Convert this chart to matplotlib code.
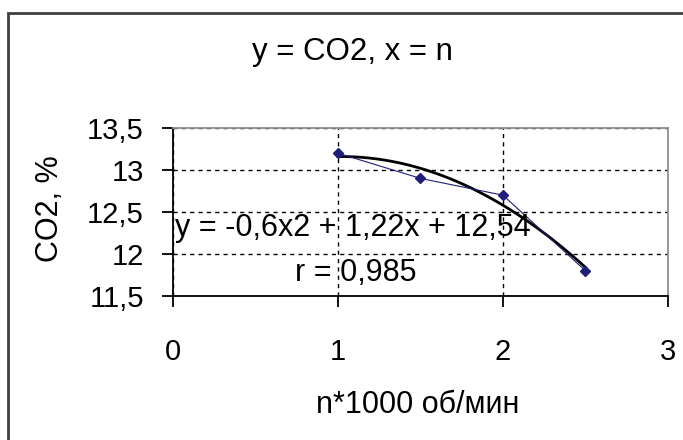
import matplotlib.pyplot as plt
import numpy as np
from matplotlib.patches import Rectangle

plt.rcParams['font.family'] = ['Liberation Sans', 'DejaVu Sans']

# измерения
n = [1, 1.5, 2, 2.5]
co2 = [13.2, 12.9, 12.7, 11.8]
# коэффициенты линии тренда (из подписи на графике)
coef = [-0.6, 1.22, 12.54]
x_ticks = [0, 1, 2, 3]
y_ticks = [11.5, 12, 12.5, 13, 13.5]
y_labels = ['11,5', '12', '12,5', '13', '13,5']

fig = plt.figure(figsize=(6.83, 4.40), dpi=100)
ax = fig.add_axes([173 / 683, 144 / 440, 495 / 683, 168 / 440])

# линия тренда
xt = np.linspace(n[0], n[-1], 100)
ax.plot(xt, np.polyval(coef, xt), color='black', lw=2, zorder=3)
# данные
ax.plot(n, co2, color='#1f1f7a', lw=0.8, marker='D', ms=5.5, zorder=4)

ax.set_xlim(0, 3)
ax.set_ylim(11.5, 13.5)
ax.set_xticks(x_ticks)
ax.set_yticks(y_ticks)
ax.set_yticklabels(y_labels)
ax.tick_params(axis='both', direction='out', length=8, width=1.3, labelsize=21)
ax.tick_params(axis='x', pad=22)
ax.tick_params(axis='y', pad=13)
ax.grid(True, color='black', linestyle=(0, (3, 3)), lw=1)

for s in ['top', 'right']:
    ax.spines[s].set_color('#909090')
    ax.spines[s].set_linewidth(1.3)
for s in ['left', 'bottom']:
    ax.spines[s].set_linewidth(1.3)

ax.text(0.01, 12.31, 'y = -0,6x2 + 1,22x + 12,54', fontsize=22, va='center', ha='left', zorder=5)
ax.text(1.11, 11.77, 'r = 0,985', fontsize=22, va='center', ha='center', zorder=5)

fig.text(352 / 683, 1 - 52 / 440, 'y = CO2, x = n', fontsize=22.5, ha='center', va='center')
fig.text(418 / 683, 1 - 405 / 440, 'n*1000 об/мин', fontsize=22, ha='center', va='center')
fig.text(50 / 683, 1 - 209 / 440, 'CO2, %', fontsize=22, ha='center', va='center', rotation=90)

# рамка вокруг диаграммы
fig.add_artist(Rectangle((8 / 683, -0.1), 1.2, 1.1 - 13 / 440, transform=fig.transFigure,
                         fill=False, edgecolor='#404040', lw=2))

fig.savefig('out.png', dpi=100)
